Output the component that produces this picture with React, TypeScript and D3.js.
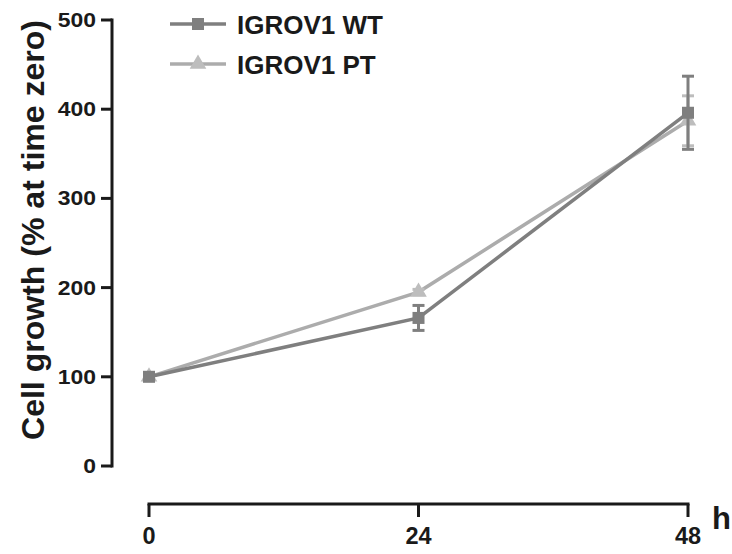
import React from "react";
import * as d3 from "d3";

const hours = [0, 24, 48];
const wtValues = [100, 166, 396];
const wtErrors = [0, 14, 41];
const ptValues = [100, 195, 387];
const ptErrors = [0, 3, 28];
const yTicks = [0, 100, 200, 300, 400, 500];
const xTicks = [0, 24, 48];
const seriesNames = ["IGROV1 WT", "IGROV1 PT"];

const W = 732;
const H = 554;
const x = d3.scaleLinear().domain([0, 48]).range([149, 688]);
const y = d3.scaleLinear().domain([0, 500]).range([466, 20]);

const WT_COLOR = "#7f7f7f";
const PT_COLOR = "#acacac";
const PT_MARK = "#bdbdbd";
const AXIS = "#1a1a1a";
const FONT = "'Liberation Sans', Arial, Helvetica, sans-serif";

export default function App() {
  const line = d3
    .line<number>()
    .x((_, i) => x(hours[i]))
    .y((d) => y(d));

  const tri = d3.symbol(d3.symbolTriangle, 120)();

  return (
    <svg width={W} height={H} style={{ display: "block", position: "absolute", left: 0, top: 0 }}>
      <rect width={W} height={H} fill="#fff" />
      {/* Y axis */}
      <line x1={112} x2={112} y1={y(500)} y2={y(0)} stroke={AXIS} strokeWidth={3} strokeLinecap="square" />
      {yTicks.map((t) => (
        <g key={t}>
          <line x1={101} x2={112} y1={y(t)} y2={y(t)} stroke={AXIS} strokeWidth={3} />
          <text
            transform={`translate(96,${y(t)}) scale(1.12,1)`}
            textAnchor="end"
            dominantBaseline="central"
            fontFamily={FONT}
            fontWeight="bold"
            fontSize={20.5}
            fill={AXIS}
          >
            {t}
          </text>
        </g>
      ))}
      <text
        transform={`translate(33,230) rotate(-90)`}
        textAnchor="middle"
        dominantBaseline="central"
        fontFamily={FONT}
        fontWeight="bold"
        fontSize={31}
        fill={AXIS}
        textLength={420}
        lengthAdjust="spacingAndGlyphs"
      >
        Cell growth (% at time zero)
      </text>
      {/* X axis */}
      <line x1={x(0)} x2={x(48)} y1={504} y2={504} stroke={AXIS} strokeWidth={3} strokeLinecap="square" />
      {xTicks.map((t) => (
        <g key={t}>
          <line x1={x(t)} x2={x(t)} y1={504} y2={517} stroke={AXIS} strokeWidth={3} />
          <text
            x={x(t)}
            y={544}
            textAnchor="middle"
            fontFamily={FONT}
            fontWeight="bold"
            fontSize={23.5}
            fill={AXIS}
          >
            {t}
          </text>
        </g>
      ))}
      <text x={712} y={529} fontFamily={FONT} fontWeight="bold" fontSize={31} fill={AXIS}>
        h
      </text>

      {/* PT series */}
      <path d={line(ptValues) || ""} fill="none" stroke={PT_COLOR} strokeWidth={3.5} />
      {ptValues.map((v, i) =>
        ptErrors[i] > 0 ? (
          <g key={"pe" + i} stroke={PT_MARK} strokeWidth={3}>
            <line x1={x(hours[i])} x2={x(hours[i])} y1={y(v - ptErrors[i])} y2={y(v + ptErrors[i])} />
            <line x1={x(hours[i]) - 6} x2={x(hours[i]) + 6} y1={y(v + ptErrors[i])} y2={y(v + ptErrors[i])} />
            <line x1={x(hours[i]) - 6} x2={x(hours[i]) + 6} y1={y(v - ptErrors[i])} y2={y(v - ptErrors[i])} />
          </g>
        ) : null
      )}
      {ptValues.map((v, i) => (
        <path key={"pm" + i} d={tri || ""} transform={`translate(${x(hours[i])},${y(v)})`} fill={PT_MARK} />
      ))}

      {/* WT series */}
      <path d={line(wtValues) || ""} fill="none" stroke={WT_COLOR} strokeWidth={3.5} />
      {wtValues.map((v, i) =>
        wtErrors[i] > 0 ? (
          <g key={"we" + i} stroke={WT_COLOR} strokeWidth={3}>
            <line x1={x(hours[i])} x2={x(hours[i])} y1={y(v - wtErrors[i])} y2={y(v + wtErrors[i])} />
            <line x1={x(hours[i]) - 6} x2={x(hours[i]) + 6} y1={y(v + wtErrors[i])} y2={y(v + wtErrors[i])} />
            <line x1={x(hours[i]) - 6} x2={x(hours[i]) + 6} y1={y(v - wtErrors[i])} y2={y(v - wtErrors[i])} />
          </g>
        ) : null
      )}
      {wtValues.map((v, i) => (
        <rect key={"wm" + i} x={x(hours[i]) - 6} y={y(v) - 6} width={12} height={12} fill={WT_COLOR} />
      ))}

      {/* Legend */}
      <line x1={170} x2={226} y1={24} y2={24} stroke={WT_COLOR} strokeWidth={3.5} />
      <rect x={192} y={18} width={12} height={12} fill={WT_COLOR} />
      <text x={237} y={34} fontFamily={FONT} fontWeight="bold" fontSize={26} fill={AXIS}>
        {seriesNames[0]}
      </text>
      <line x1={170} x2={226} y1={64} y2={64} stroke={PT_COLOR} strokeWidth={3.5} />
      <path d={tri || ""} transform={`translate(198,${64})`} fill={PT_MARK} />
      <text x={237} y={74} fontFamily={FONT} fontWeight="bold" fontSize={26} fill={AXIS}>
        {seriesNames[1]}
      </text>
    </svg>
  );
}
